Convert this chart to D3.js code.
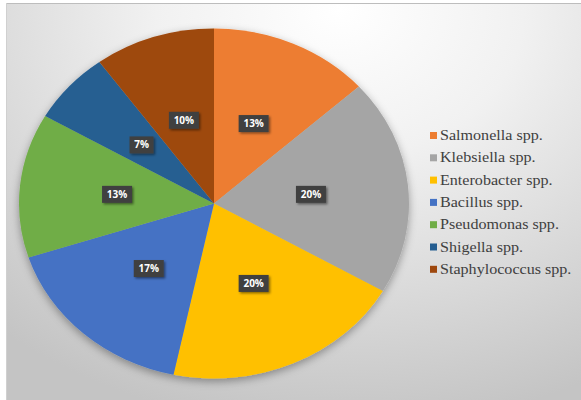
<!DOCTYPE html>
<html>
<head>
<meta charset="utf-8">
<script src="https://cdn.jsdelivr.net/npm/d3@7"></script>
<style>
  body { margin: 0; background: #fff; }
  .legend-label { font-family: "Liberation Serif", "DejaVu Serif", "Times New Roman", serif; }
</style>
</head>
<body>
<div id="chart"></div>
<script>
const categories = ["Salmonella spp.", "Klebsiella spp.", "Enterobacter spp.", "Bacillus spp.",
    "Pseudomonas spp.", "Shigella spp.", "Staphylococcus spp."];
const counts = [4, 6, 6, 5, 4, 2, 3];
const colours = ["#ED7D31", "#A5A5A5", "#FFC000", "#4472C4", "#70AD47", "#255E91", "#9E480E"];

const width = 581;
const height = 400;

const svg = d3.select("#chart")
    .append("svg")
    .attr("width", width)
    .attr("height", height);

const defs = svg.append("defs");

const bg = defs.append("radialGradient")
    .attr("id", "bg")
    .attr("gradientUnits", "userSpaceOnUse")
    .attr("cx", 340).attr("cy", 10).attr("r", 420)
    .attr("gradientTransform", "translate(340,10) scale(1.25,1) translate(-340,-10)");
bg.append("stop").attr("offset", 0).attr("stop-color", "#ffffff");
bg.append("stop").attr("offset", 0.35).attr("stop-color", "#f1f1f1");
bg.append("stop").attr("offset", 1).attr("stop-color", "#c4c4c4");

const shadow = defs.append("filter").attr("id", "shadow")
    .attr("x", "-20%").attr("y", "-20%").attr("width", "140%").attr("height", "140%");
shadow.append("feDropShadow")
    .attr("dx", 0).attr("dy", 3).attr("stdDeviation", 4)
    .attr("flood-color", "#000").attr("flood-opacity", 0.35);

const boxShadow = defs.append("filter").attr("id", "boxshadow")
    .attr("x", "-30%").attr("y", "-30%").attr("width", "170%").attr("height", "180%");
boxShadow.append("feDropShadow")
    .attr("dx", 1.5).attr("dy", 1.5).attr("stdDeviation", 1.2)
    .attr("flood-color", "#000").attr("flood-opacity", 0.45);

// chart area
svg.append("rect")
    .attr("x", 6).attr("y", 3)
    .attr("width", width - 6).attr("height", height - 3)
    .attr("fill", "url(#bg)");
svg.append("line")
    .attr("x1", 6).attr("x2", width).attr("y1", 3.5).attr("y2", 3.5)
    .attr("stroke", "#bdbdbd");
svg.append("line")
    .attr("x1", 6.5).attr("x2", 6.5).attr("y1", 3).attr("y2", height)
    .attr("stroke", "#d0d0d0");

const cx = 214, cy = 203.5, ry = 175, rx = 195;
const sx = rx / ry;

const total = d3.sum(counts);
const pie = d3.pie().sort(null).value(d => d)(counts);
const arc = d3.arc().innerRadius(0).outerRadius(ry);
const labelArc = d3.arc().innerRadius(ry * 0.5).outerRadius(ry * 0.5);

const pieG = svg.append("g")
    .attr("transform", `translate(${cx},${cy}) scale(${sx},1)`)
    .attr("filter", "url(#shadow)");

pieG.selectAll("path")
    .data(pie)
    .enter().append("path")
    .attr("d", arc)
    .attr("fill", (d, i) => colours[i]);

const labels = svg.append("g")
    .attr("transform", `translate(${cx},${cy})`)
    .selectAll("g")
    .data(pie)
    .enter().append("g")
    .attr("transform", d => {
        const c = labelArc.centroid(d);
        return `translate(${c[0] * sx},${c[1]})`;
    });

labels.each(function (d) {
    const g = d3.select(this);
    const txt = Math.round(d.value / total * 100) + "%";
    const w = txt.length === 2 ? 24 : 30;
    g.append("rect")
        .attr("x", -w / 2).attr("y", -8.5)
        .attr("width", w).attr("height", 17)
        .attr("fill", "#404040")
        .attr("filter", "url(#boxshadow)");
    g.append("text")
        .attr("text-anchor", "middle")
        .attr("dy", "0.35em")
        .attr("font-family", "'Open Sans', 'DejaVu Sans', sans-serif")
        .attr("font-weight", "bold")
        .attr("font-size", 10)
        .attr("fill", "#ffffff")
        .text(txt);
});

// legend
const legend = svg.append("g")
    .attr("transform", "translate(430,135.5)");

const item = legend.selectAll("g")
    .data(categories)
    .enter().append("g")
    .attr("transform", (d, i) => `translate(0,${i * 22.3})`);

item.append("rect")
    .attr("x", 0).attr("y", -3.5)
    .attr("width", 7).attr("height", 7)
    .attr("fill", (d, i) => colours[i]);

item.append("text")
    .attr("class", "legend-label")
    .attr("transform", "translate(10,0) scale(1.15,1)")
    .attr("dy", "0.33em")
    .style("font-size", "14px")
    .attr("fill", "#404040")
    .text(d => d);
</script>
</body>
</html>
